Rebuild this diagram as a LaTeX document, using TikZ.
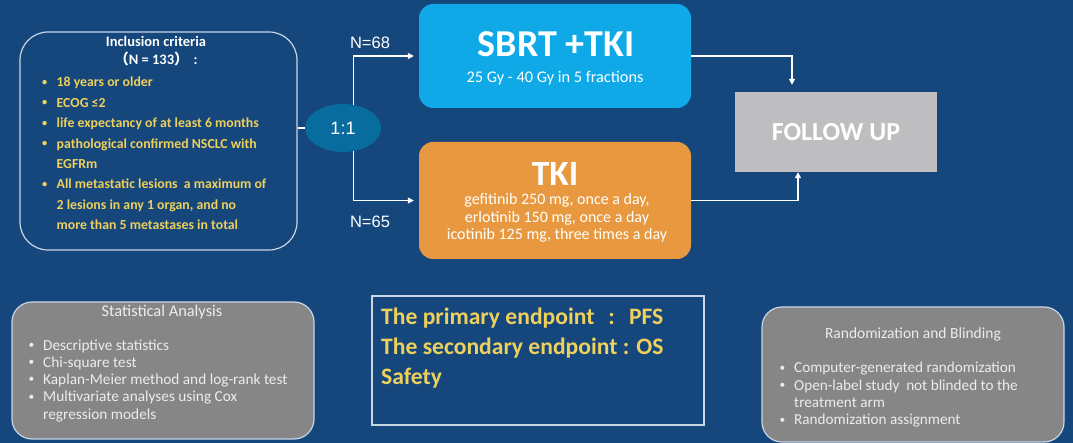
\documentclass[tikz,border=0pt]{standalone}
\usepackage{fontspec}
\setmainfont{Carlito}
\newfontfamily\arialfont{Liberation Sans}
\newfontfamily\cjk{Noto Sans CJK SC}
\usetikzlibrary{shapes.geometric,arrows.meta,positioning}
\definecolor{bgblue}{RGB}{21,70,124}
\definecolor{sbrtblue}{RGB}{14,169,230}
\definecolor{tkiorange}{RGB}{232,153,64}
\definecolor{followgrey}{RGB}{190,190,193}
\definecolor{boxgrey}{RGB}{134,134,134}
\definecolor{crityellow}{RGB}{238,208,92}
\definecolor{ovalteal}{RGB}{8,108,158}
\definecolor{lightline}{RGB}{200,214,230}
\definecolor{softwhite}{RGB}{236,236,236}
\newcommand{\bul}{\raisebox{0.25ex}{\scalebox{0.75}{\textbullet}}}
\tikzset{
  armbox/.style={rounded corners=14pt, minimum width=272pt, inner sep=0pt},
  greybox/.style={draw=lightline, line width=1.2pt, fill=boxgrey, rounded corners=20pt,
    minimum width=302pt, inner sep=0pt},
  flow/.style={draw=white, line width=1.3pt, -{Triangle[length=6pt,width=6pt]}},
  plainline/.style={draw=white, line width=1.3pt},
  listtext/.style={anchor=base west, inner sep=0pt},
}
\begin{document}
\begin{tikzpicture}[x=1pt,y=-1pt]
  \fill [bgblue] (0,0) rectangle (1073,443);
  \useasboundingbox (0,0) rectangle (1073,443);
  % inclusion criteria
  \node (incl) [draw=lightline, line width=1.2pt, rounded corners=28pt,
    minimum width=277pt, minimum height=218pt] at (158.5,141) {};
  \node (incltitle) [white, align=center, font=\bfseries\fontsize{14.5}{18}\selectfont]
    at (156,51) {Inclusion criteria\\{\cjk （}N = 133{\cjk ）}\hspace{5pt}:};
  \node (incllist) [listtext, crityellow,
    font=\bfseries\fontsize{13.8}{20.4}\selectfont] at (42,87) {%
    \begin{tabular}[t]{@{}p{14.5pt}@{}l@{}}
      \bul & 18 years or older\\
      \bul & ECOG ≤2\\
      \bul & life expectancy of at least 6 months\\
      \bul & pathological confirmed NSCLC with\\
           & EGFRm\\
      \bul & All metastatic lesions\ \ a maximum of\\
           & 2 lesions in any 1 organ, and no\\
           & more than 5 metastases in total
    \end{tabular}};
  % randomisation
  \node (oval) [ellipse, fill=ovalteal, minimum width=76pt, minimum height=48pt,
    text=white, font=\arialfont\fontsize{18}{20}\selectfont] at (343,128) {1:1};
  % treatment arms
  \node (sbrt) [armbox, fill=sbrtblue, minimum height=104pt] at (555,56) {};
  \node (sbrttitle) [white, font=\bfseries\fontsize{38}{40}\selectfont] at (556,44) {SBRT +TKI};
  \node (sbrtdose) [white, font=\fontsize{16.3}{18}\selectfont] at (555,78) {25 Gy - 40 Gy in 5 fractions};
  \node (tki) [armbox, fill=tkiorange, minimum height=117pt] at (555,200.5) {};
  \node (tkititle) [white, font=\bfseries\fontsize{35.5}{38}\selectfont] at (555,174) {TKI};
  \node (tkidose) [white, align=center, font=\fontsize{16}{17.5}\selectfont] at (557,218)
    {gefitinib 250 mg, once a day,\\erlotinib 150 mg, once a day\\icotinib 125 mg, three times a day};
  \node (n68) [white, font=\arialfont\fontsize{16.5}{18}\selectfont] at (370,43) {N=68};
  \node (n65) [white, font=\arialfont\fontsize{16.5}{18}\selectfont] at (370,222) {N=65};
  % follow up
  \node (follow) [fill=followgrey, minimum width=202pt, minimum height=80pt,
    text=white, font=\bfseries\fontsize{26}{28}\selectfont] at (836,132) {FOLLOW UP};
  % connectors
  \draw [plainline] (oval.west -| incl.east) -- (oval.west);
  \draw [flow, shorten >=5pt] (oval.66) |- (sbrt.west);
  \draw [flow, shorten >=5pt] (oval.-66) |- (tki.west);
  \draw [flow, shorten >=7pt] (sbrt.east) -| ([xshift=-44pt]follow.north);
  \draw [flow] (tki.east) -| ([xshift=-38pt]follow.south);
  % statistical analysis
  \node (stat) [greybox, minimum height=137pt] at (163,370.5) {};
  \node (stattitle) [softwhite, font=\fontsize{16.4}{18}\selectfont] at (162,312) {Statistical Analysis};
  \node (statlist) [listtext, softwhite,
    font=\fontsize{15.3}{17.3}\selectfont] at (28.5,350) {%
    \begin{tabular}[t]{@{}p{14.5pt}@{}l@{}}
      \bul & Descriptive statistics\\
      \bul & Chi-square test\\
      \bul & Kaplan-Meier method and log-rank test\\
      \bul & Multivariate analyses using Cox\\
           & regression models
    \end{tabular}};
  % endpoints
  \node (endp) [draw=lightline, line width=1.2pt, minimum width=332pt, minimum height=129pt]
    at (538,360.5) {};
  \node (endptext) [listtext, crityellow,
    font=\bfseries\fontsize{23.6}{29.5}\selectfont] at (381,325) {%
    \begin{tabular}[t]{@{}l@{}}
      The primary endpoint\hspace{14pt}:\hspace{14pt}PFS\\
      The secondary endpoint : OS\\
      Safety
    \end{tabular}};
  % randomization and blinding
  \node (rand) [greybox, minimum height=135pt] at (913,374.5) {};
  \node (randtitle) [softwhite, font=\fontsize{15.5}{18}\selectfont] at (913,334) {Randomization and Blinding};
  \node (randlist) [listtext, softwhite,
    font=\fontsize{15.2}{17.3}\selectfont] at (779.5,373) {%
    \begin{tabular}[t]{@{}p{14.5pt}@{}l@{}}
      \bul & Computer-generated randomization\\
      \bul & Open-label study\ \ not blinded to the\\
           & treatment arm\\
      \bul & Randomization assignment
    \end{tabular}};
\end{tikzpicture}
\end{document}
